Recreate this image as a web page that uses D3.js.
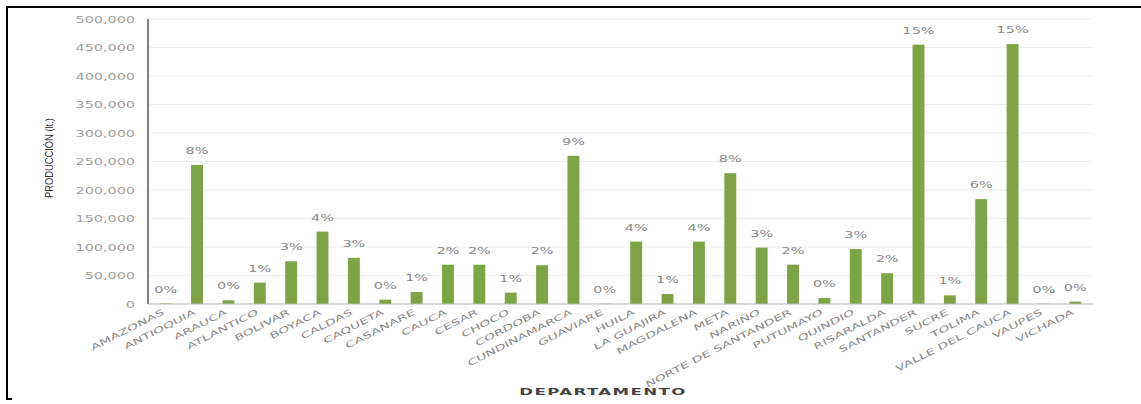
<!DOCTYPE html>
<html>
<head>
<meta charset="utf-8">
<script src="https://cdn.jsdelivr.net/npm/d3@7"></script>
<style>
  html, body { margin: 0; padding: 0; background: #fff; overflow: hidden; }
  svg { display: block; }
</style>
</head>
<body>
<svg id="chart" width="1141" height="404"></svg>
<script>
// ---- data ----
const categories = ["AMAZONAS","ANTIOQUIA","ARAUCA","ATLANTICO","BOLIVAR","BOYACA","CALDAS","CAQUETA","CASANARE","CAUCA","CESAR","CHOCO","CORDOBA","CUNDINAMARCA","GUAVIARE","HUILA","LA GUAJIRA","MAGDALENA","META","NARIÑO","NORTE DE SANTANDER","PUTUMAYO","QUINDIO","RISARALDA","SANTANDER","SUCRE","TOLIMA","VALLE DEL CAUCA","VAUPES","VICHADA"];
const production = [800,244000,6500,37500,75000,127000,81000,7600,21000,69000,69000,20000,68000,260000,500,109500,17600,109500,229500,99000,69000,10500,96500,54000,455000,15200,184000,456000,500,4100];
const percentLabels = ["0%","8%","0%","1%","3%","4%","3%","0%","1%","2%","2%","1%","2%","9%","0%","4%","1%","4%","8%","3%","2%","0%","3%","2%","15%","1%","6%","15%","0%","0%"];
const yTicks = [0,50000,100000,150000,200000,250000,300000,350000,400000,450000,500000];
const yTitle = "PRODUCCIÓN (lt.)";
const xTitle = "DEPARTAMENTO";

const svg = d3.select("#chart");
const W = 1141, H = 404;
svg.append("rect").attr("width", W).attr("height", H).attr("fill", "#fff");

const x = d3.scaleBand().domain(categories).range([150, 1091]).paddingInner(0.62).paddingOuter(0.31);
const y = d3.scaleLinear().domain([0, 500000]).range([304, 19]);
const fmt = d3.format(",");

// gridlines
svg.append("g").selectAll("line").data(yTicks.filter(d => d > 0)).join("line")
  .attr("x1", 150).attr("x2", 1093)
  .attr("y1", d => y(d)).attr("y2", d => y(d))
  .attr("stroke", "#ececec").attr("stroke-width", 1);

// y axis via d3.axisLeft
const yAxis = d3.axisLeft(y).tickValues(yTicks).tickFormat(fmt).tickSize(0).tickPadding(0);
const gy = svg.append("g").attr("transform", "translate(148,0)").call(yAxis);
gy.select(".domain").remove();
gy.selectAll(".tick text")
  .attr("x", null).attr("dy", null)
  .attr("transform", `translate(-13,3) scale(1.8,1)`)
  .attr("text-anchor", "end")
  .attr("font-family", "DejaVu Sans").attr("font-size", 8)
  .attr("fill", "#a0a0a0");

svg.append("line").attr("x1", 148).attr("x2", 148).attr("y1", y(500000)).attr("y2", y(0))
  .attr("stroke", "#555").attr("stroke-width", 1.5);

// bars
svg.append("g").selectAll("rect").data(categories).join("rect")
  .attr("x", d => x(d)).attr("width", x.bandwidth())
  .attr("y", (d, i) => y(production[i]))
  .attr("height", (d, i) => y(0) - y(production[i]))
  .attr("fill", "#7ea445");

// baseline
svg.append("line").attr("x1", 148).attr("x2", 1093).attr("y1", y(0)).attr("y2", y(0))
  .attr("stroke", "#b5b5b5").attr("stroke-width", 1.2);

// percent labels
svg.append("g").selectAll("text").data(categories).join("text")
  .attr("transform", (d, i) => `translate(${x(d) + x.bandwidth() / 2},${y(production[i]) - 11}) scale(1.7,1)`)
  .attr("text-anchor", "middle")
  .attr("font-family", "DejaVu Sans").attr("font-size", 8.5)
  .attr("fill", "#8a8a8a")
  .text((d, i) => percentLabels[i]);

// x category labels
svg.append("g").selectAll("text").data(categories).join("text")
  .attr("transform", d => `translate(${x(d) + x.bandwidth() / 2 - 1},314) rotate(-27) scale(1.65,1)`)
  .attr("text-anchor", "end")
  .attr("font-family", "DejaVu Sans").attr("font-size", 8.5)
  .attr("fill", "#8a8a8a")
  .text(d => d);

// axis titles
svg.append("text")
  .attr("transform", `translate(53,158) rotate(-90) scale(0.85,1)`)
  .attr("text-anchor", "middle")
  .attr("font-family", "Liberation Sans").attr("font-size", 11)
  .attr("fill", "#333")
  .text(yTitle);

svg.append("text")
  .attr("transform", `translate(603,395) scale(1.75,1)`)
  .attr("text-anchor", "middle")
  .attr("font-family", "DejaVu Sans").attr("font-weight", "bold").attr("font-size", 9.5)
  .attr("letter-spacing", 0.8)
  .attr("fill", "#444")
  .text(xTitle);

// frame
svg.append("line").attr("x1", 6).attr("x2", W).attr("y1", 7).attr("y2", 7).attr("stroke", "#000").attr("stroke-width", 2);
svg.append("line").attr("x1", 7).attr("x2", 7).attr("y1", 6).attr("y2", 400).attr("stroke", "#000").attr("stroke-width", 2);
svg.append("line").attr("x1", 6).attr("x2", 12).attr("y1", 399).attr("y2", 399).attr("stroke", "#000").attr("stroke-width", 2);
</script>
</body>
</html>
